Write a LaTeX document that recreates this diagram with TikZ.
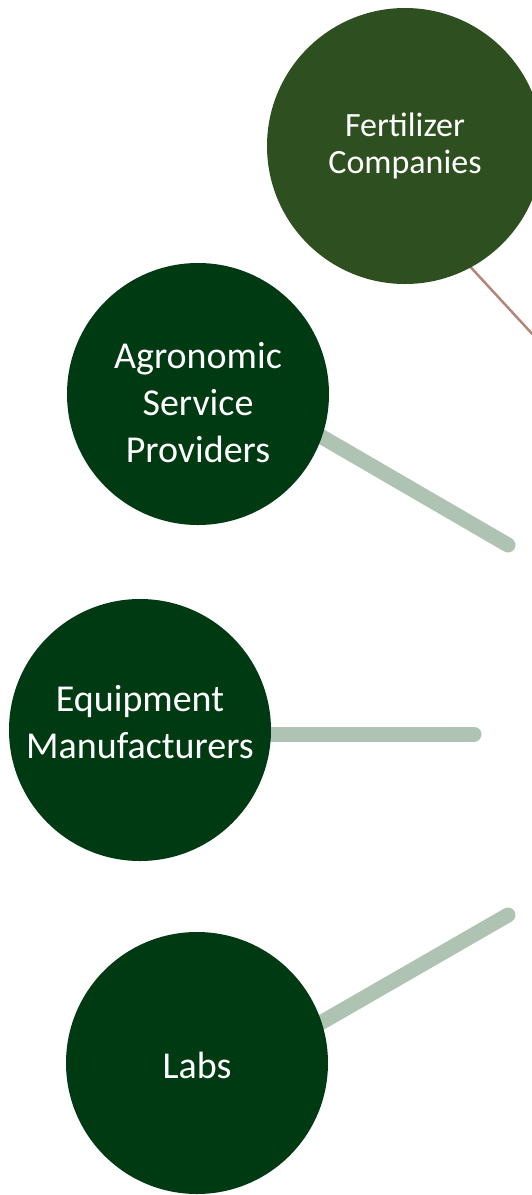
\documentclass[tikz,border=0pt]{standalone}
\usepackage{fontspec}
\setmainfont{Carlito}
\usetikzlibrary{backgrounds}
\definecolor{fertgreen}{HTML}{2E5021}
\definecolor{darkgreen}{HTML}{003A12}
\definecolor{spoke}{HTML}{AFC3B3}
\definecolor{brownline}{HTML}{B4867A}
\tikzset{
  hub/.style={circle, fill=darkgreen, inner sep=0pt, minimum size=262pt},
  hubtext/.style={text=white, inner sep=0pt, align=center, font=\fontsize{38}{47}\selectfont},
  fert/.style={circle, fill=fertgreen, text=white, inner sep=0pt, minimum size=276pt, align=center,
    font=\fontsize{34}{37}\selectfont},
  spokeline/.style={draw=spoke, line width=15pt, line cap=round},
  thinline/.style={draw=brownline, line width=2.5pt}
}
\begin{document}
\begin{tikzpicture}[x=1pt, y=-1pt]
\useasboundingbox (0,0) rectangle (532,1195);
\node[fert] (fert) at (405,146) {Fertilizer\\Companies};
\node[hub] (agr) at (198,394) {};
\node[hub] (eq) at (140,730) {};
\node[hub] (labs) at (197,1063) {};
\node[hubtext] (agrText) at (198,403) {Agronomic\\Service\\Providers};
\node[hubtext] (eqText) at (140,722) {Equipment\\Manufacturers};
\node[hubtext] (labsText) at (197,1065) {Labs};
\coordinate (fertEnd) at (560,364);
\coordinate (agrEnd) at (508,545);
\coordinate (eqEnd) at (474,734);
\coordinate (labsEnd) at (508,915);
\begin{scope}[on background layer]
  \draw[thinline] ([yshift=-50pt]fert.center) -- (fertEnd);
  \draw[spokeline] ([yshift=29pt]agr.center) -- (agrEnd);
  \draw[spokeline] ([yshift=-4pt]eq.center) -- (eqEnd);
  \draw[spokeline] ([yshift=-31pt]labs.center) -- (labsEnd);
\end{scope}
\end{tikzpicture}
\end{document}
